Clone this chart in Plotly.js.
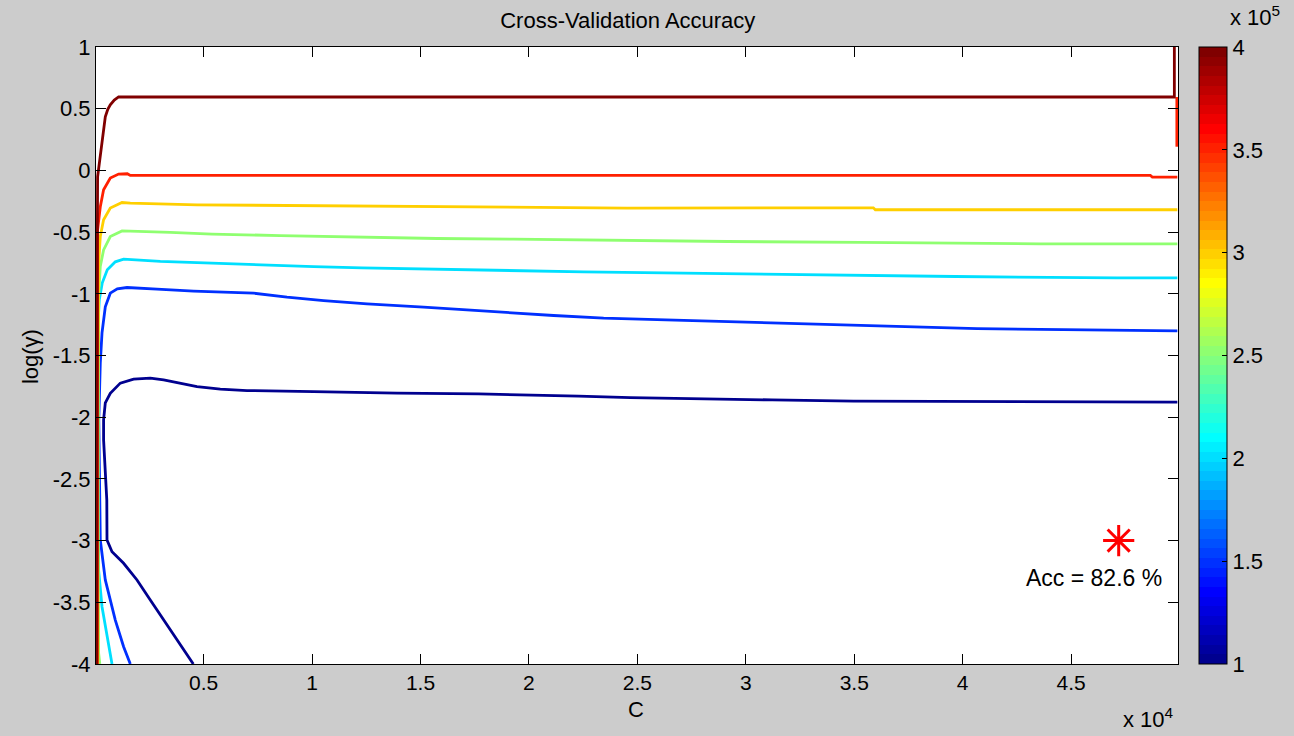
<!DOCTYPE html>
<html>
<head>
<meta charset="utf-8">
<script src="https://cdn.plot.ly/plotly-3.0.1.min.js"></script>
<style>html,body{margin:0;padding:0;background:#cccccc;}#chart{width:1294px;height:736px;}</style>
</head>
<body>
<div id="chart"></div>
<script>
// Contour levels (accuracy-related values, x 10^5 on colorbar)
const levels = [100000, 150000, 200000, 250000, 300000, 350000, 400000];
const levelLabels = ['1', '1.5', '2', '2.5', '3', '3.5', '4'];

// Contour lines: C values and log(gamma) values
const c_100k = [4524, 3772, 3154, 2541, 1928, 1310, 775, 544, 535, 466, 387, 387, 466, 696, 1157, 1771, 2541, 3154, 3924, 4694, 5769, 7000, 10071, 13917, 17680, 20143, 22292, 24676, 27752, 31210, 34974, 44506, 49900];
const g_100k = [-4.0, -3.806, -3.644, -3.482, -3.319, -3.184, -3.09, -2.995, -2.671, -2.482, -2.184, -2.022, -1.884, -1.806, -1.724, -1.692, -1.684, -1.698, -1.724, -1.752, -1.773, -1.784, -1.792, -1.805, -1.811, -1.819, -1.83, -1.841, -1.852, -1.86, -1.87, -1.878, -1.878];

const c_150k = [1619, 1310, 927, 466, 235, 189, 166, 235, 314, 466, 696, 1019, 1466, 2850, 4538, 7305, 8845, 10533, 12534, 15144, 18529, 21139, 23445, 26212, 30058, 33747, 37588, 40664, 44658, 48193, 49900];
const g_150k = [-4.0, -3.86, -3.644, -3.319, -2.995, -2.508, -2.022, -1.56, -1.317, -1.106, -0.995, -0.96, -0.949, -0.962, -0.978, -0.995, -1.027, -1.055, -1.081, -1.108, -1.149, -1.176, -1.197, -1.211, -1.23, -1.252, -1.27, -1.282, -1.29, -1.3, -1.3];

const c_200k = [775, 544, 314, 157, 134, 157, 189, 327, 558, 927, 1310, 3002, 5617, 7766, 10071, 12304, 15144, 17607, 19913, 22523, 26212, 30980, 34960, 39664, 47120, 49900];
const g_200k = [-4.0, -3.779, -3.536, -3.238, -2.265, -1.154, -1.049, -0.911, -0.806, -0.741, -0.719, -0.738, -0.755, -0.768, -0.779, -0.79, -0.8, -0.806, -0.814, -0.822, -0.83, -0.841, -0.852, -0.86, -0.871, -0.871];

const c_250k = [212, 157, 134, 157, 235, 387, 696, 1236, 3463, 5386, 8536, 11842, 15762, 19281, 23140, 29135, 35283, 43584, 49900];
const g_250k = [-4.0, -3.911, -2.671, -1.022, -0.779, -0.644, -0.536, -0.49, -0.503, -0.516, -0.528, -0.541, -0.552, -0.557, -0.565, -0.576, -0.584, -0.595, -0.595];

const c_300k = [120, 120, 157, 235, 387, 696, 1236, 1619, 4694, 10519, 17298, 24524, 35882, 35974, 49900];
const g_300k = [-4.0, -1.86, -0.751, -0.536, -0.4, -0.305, -0.26, -0.265, -0.279, -0.287, -0.292, -0.305, -0.303, -0.319, -0.319];

const c_350k = [97, 97, 111, 235, 387, 696, 1079, 1480, 1619, 48655, 48747, 49900, null, 49877, 49877];
const g_350k = [-4.0, -1.86, -0.481, -0.295, -0.157, -0.062, -0.03, -0.027, -0.041, -0.041, -0.054, -0.054, null, 0.595, 0.192];

const c_400k = [74, 74, 97, 111, 180, 235, 300, 360, 466, 580, 696, 880, 1079, 49762, 49762];
const g_400k = [-4.0, -1.86, -0.644, -0.052, 0.04, 0.111, 0.195, 0.273, 0.435, 0.495, 0.532, 0.57, 0.595, 0.595, 1.0];

const lineC = [c_100k, c_150k, c_200k, c_250k, c_300k, c_350k, c_400k];
const lineG = [g_100k, g_150k, g_200k, g_250k, g_300k, g_350k, g_400k];

// Best point
const bestC = [47195];
const bestG = [-3.0];
const bestLabel = 'Acc = 82.6 %';
const bestLabelC = 46041;
const bestLabelG = -3.3;

// Axis ticks
const xTickVals = [5000, 10000, 15000, 20000, 25000, 30000, 35000, 40000, 45000];
const xTickText = ['0.5', '1', '1.5', '2', '2.5', '3', '3.5', '4', '4.5'];
const yTickVals = [1, 0.5, 0, -0.5, -1, -1.5, -2, -2.5, -3, -3.5, -4];
const yTickText = ['1', '0.5', '0', '-0.5', '-1', '-1.5', '-2', '-2.5', '-3', '-3.5', '-4'];

// MATLAB jet(64) colormap
const NCOL = 64;
function jetU(k) { if (k < 1 || k > 47) return 0; if (k <= 16) return k / 16; if (k <= 31) return 1; return (48 - k) / 16; }
function jetRow(j) { // j = 1..64
  const r = Math.round(255 * jetU(j - 24)), g = Math.round(255 * jetU(j - 8)), b = Math.round(255 * jetU(j + 8));
  return 'rgb(' + r + ',' + g + ',' + b + ')';
}
const cmin = levels[0], cmax = levels[levels.length - 1];
function levelColor(v) {
  let idx = Math.floor((v - cmin) / (cmax - cmin) * NCOL) + 1;
  idx = Math.max(1, Math.min(NCOL, idx));
  return jetRow(idx);
}
const jetScale = [];
for (let j = 1; j <= NCOL; j++) {
  jetScale.push([(j - 1) / NCOL, jetRow(j)]);
  jetScale.push([j / NCOL, jetRow(j)]);
}

const FONT = 'Liberation Sans, Arial, Helvetica, sans-serif';
const FS = 22;
const traces = [];
levels.forEach((lv, i) => {
  traces.push({
    type: 'scatter', mode: 'lines', x: lineC[i], y: lineG[i],
    line: { color: levelColor(lv), width: 2.8 }, connectgaps: false,
    hoverinfo: 'skip', showlegend: false
  });
});
// colorbar carrier
const CB_X = 1.0194;
traces.push({
  type: 'scatter', mode: 'markers', x: levels.map(() => null), y: levels.map(() => null),
  showlegend: false, hoverinfo: 'skip',
  marker: {
    color: levels, cmin: cmin, cmax: cmax, colorscale: jetScale, showscale: true, size: 1, opacity: 0,
    colorbar: {
      x: CB_X, xanchor: 'left', xpad: 0, y: 0.5, yanchor: 'middle', len: 1, lenmode: 'fraction', ypad: 0,
      thickness: 28, thicknessmode: 'pixels', outlinewidth: 1, outlinecolor: '#000000',
      tickvals: levels, ticktext: levelLabels, ticks: 'inside', ticklen: 5, tickcolor: '#000000',
      tickfont: { family: FONT, size: FS, color: '#000000' }, ticklabelposition: 'outside'
    }
  }
});
// best point
traces.push({
  type: 'scatter', mode: 'markers', x: bestC, y: bestG, showlegend: false, hoverinfo: 'skip',
  marker: { symbol: 'asterisk-open', size: 26, color: '#ff0000', line: { color: '#ff0000', width: 3 } }
});

// left-side inner tick marks of the colorbar (MATLAB style)
const cbShapes = levels.slice(1, -1).map(v => ({
  type: 'line', xref: 'paper', yref: 'paper',
  x0: CB_X, x1: CB_X + 5 / 1082,
  y0: (v - cmin) / (cmax - cmin), y1: (v - cmin) / (cmax - cmin),
  line: { color: '#000000', width: 1 }
}));

const layout = {
  width: 1294, height: 736,
  paper_bgcolor: '#cccccc', plot_bgcolor: '#ffffff',
  margin: { l: 96, r: 116, t: 47, b: 72, pad: 0 },
  showlegend: false,
  title: { text: 'Cross-Validation Accuracy', font: { family: FONT, size: FS, color: '#000000' }, x: 0.4915, xanchor: 'center', y: 0.973, yanchor: 'middle', xref: 'paper' },
  xaxis: {
    range: [37, 49930], tickvals: xTickVals, ticktext: xTickText,
    ticks: 'inside', ticklen: 10, tickcolor: '#000000', tickwidth: 1,
    showline: true, linecolor: '#000000', linewidth: 1, mirror: 'ticks',
    showgrid: false, zeroline: false,
    tickfont: { family: FONT, size: 21, color: '#000000' }
  },
  yaxis: {
    range: [-4, 1], tickvals: yTickVals, ticktext: yTickText,
    ticks: 'inside', ticklen: 10, tickcolor: '#000000', tickwidth: 1,
    showline: true, linecolor: '#000000', linewidth: 1, mirror: 'ticks',
    showgrid: false, zeroline: false,
    tickfont: { family: FONT, size: FS, color: '#000000' }
  },
  shapes: cbShapes,
  annotations: [
    { text: bestLabel, x: bestLabelC, y: bestLabelG, xref: 'x', yref: 'y', showarrow: false, xanchor: 'center', yanchor: 'middle', font: { family: FONT, size: 23, color: '#000000' } },
    { text: 'C', x: 0.499, y: -0.073, xref: 'paper', yref: 'paper', showarrow: false, xanchor: 'center', yanchor: 'middle', font: { family: FONT, size: FS, color: '#000000' } },
    { text: 'log(γ)', x: -0.061, y: 0.499, xref: 'paper', yref: 'paper', showarrow: false, textangle: -90, xanchor: 'center', yanchor: 'middle', font: { family: FONT, size: FS, color: '#000000' } },
    { text: 'x 10<sup>4</sup>', x: 0.998, y: -0.087, xref: 'paper', yref: 'paper', showarrow: false, xanchor: 'right', yanchor: 'middle', font: { family: FONT, size: FS, color: '#000000' } },
    { text: 'x 10<sup>5</sup>', x: 1.046, y: 1.05, xref: 'paper', yref: 'paper', showarrow: false, xanchor: 'left', yanchor: 'middle', font: { family: FONT, size: FS, color: '#000000' } }
  ]
};

Plotly.newPlot('chart', traces, layout, { staticPlot: true, displayModeBar: false });
</script>
</body>
</html>
